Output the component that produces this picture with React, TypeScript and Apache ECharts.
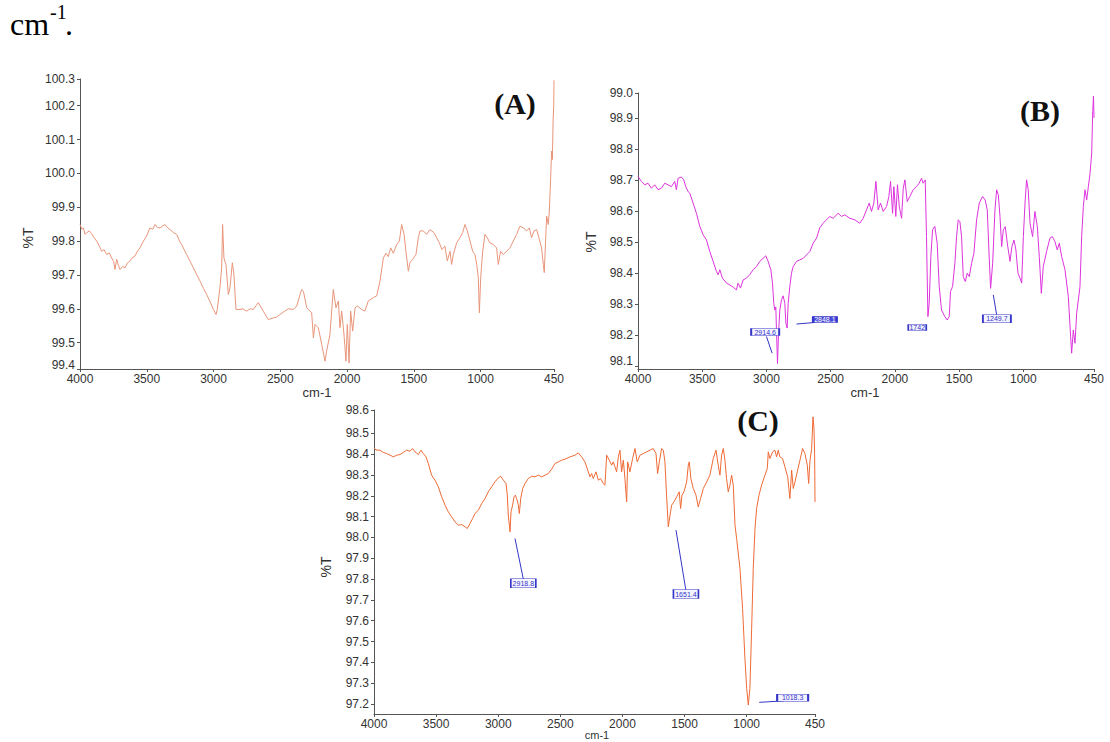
import React, { useEffect, useRef } from "react";
import * as echarts from "echarts";

// ---------- tick labels ----------
const xTicks = [4000, 3500, 3000, 2500, 2000, 1500, 1000, 450];
const yTicksA = [99.422, 99.5, 99.6, 99.7, 99.8, 99.9, 100.0, 100.1, 100.2, 100.279];
const yTicksB = [98.09, 98.1, 98.2, 98.3, 98.4, 98.5, 98.6, 98.7, 98.8, 98.9, 98.98];
const yTicksC = [97.152, 97.2, 97.3, 97.4, 97.5, 97.6, 97.7, 97.8, 97.9, 98.0, 98.1, 98.2, 98.3, 98.4, 98.5, 98.612];

// ---------- spectra [wavenumber cm-1, %T] ----------
const specA: [number, number][] = [
  [4000, 99.849], [3985, 99.835], [3975, 99.839], [3962, 99.82], [3950, 99.825], [3930, 99.83], [3913, 99.822], [3895, 99.81],
  [3875, 99.8], [3855, 99.785], [3838, 99.77], [3820, 99.775], [3800, 99.76], [3780, 99.765], [3763, 99.75], [3748, 99.74],
  [3738, 99.716], [3725, 99.746], [3712, 99.728], [3700, 99.716], [3680, 99.725], [3663, 99.721], [3645, 99.735], [3626, 99.741],
  [3610, 99.75], [3588, 99.756], [3570, 99.77], [3551, 99.78], [3525, 99.8], [3501, 99.815], [3476, 99.839], [3455, 99.835],
  [3438, 99.849], [3420, 99.84], [3401, 99.839], [3380, 99.845], [3363, 99.849], [3345, 99.84], [3326, 99.834], [3300, 99.825],
  [3276, 99.82], [3255, 99.8], [3239, 99.79], [3220, 99.775], [3201, 99.76], [3175, 99.74], [3151, 99.721], [3125, 99.7],
  [3101, 99.682], [3075, 99.66], [3051, 99.642], [3025, 99.62], [3001, 99.598], [2981, 99.583], [2972, 99.598], [2952, 99.662],
  [2939, 99.721], [2932, 99.849], [2922, 99.75], [2907, 99.731], [2889, 99.642], [2877, 99.662], [2859, 99.736], [2847, 99.7],
  [2832, 99.598], [2802, 99.598], [2780, 99.6], [2752, 99.593], [2725, 99.6], [2702, 99.598], [2665, 99.618], [2627, 99.593],
  [2590, 99.568], [2552, 99.573], [2530, 99.575], [2502, 99.583], [2477, 99.59], [2440, 99.6], [2402, 99.598], [2377, 99.608],
  [2352, 99.642], [2340, 99.657], [2327, 99.652], [2302, 99.603], [2265, 99.588], [2252, 99.514], [2240, 99.554], [2215, 99.544],
  [2190, 99.495], [2165, 99.445], [2153, 99.475], [2128, 99.524], [2103, 99.657], [2083, 99.603], [2065, 99.623], [2053, 99.544],
  [2040, 99.593], [2023, 99.524], [2008, 99.445], [1998, 99.554], [1985, 99.44], [1973, 99.593], [1958, 99.534], [1940, 99.603],
  [1923, 99.608], [1890, 99.598], [1866, 99.593], [1841, 99.623], [1803, 99.633], [1778, 99.638], [1753, 99.682], [1728, 99.75],
  [1708, 99.764], [1691, 99.754], [1673, 99.78], [1653, 99.764], [1628, 99.79], [1608, 99.8], [1591, 99.849], [1573, 99.82],
  [1559, 99.77], [1541, 99.711], [1529, 99.736], [1509, 99.746], [1484, 99.76], [1466, 99.81], [1454, 99.83], [1429, 99.83],
  [1404, 99.82], [1379, 99.834], [1349, 99.825], [1329, 99.81], [1309, 99.795], [1289, 99.775], [1267, 99.785], [1249, 99.741],
  [1229, 99.77], [1217, 99.731], [1204, 99.76], [1179, 99.795], [1154, 99.81], [1134, 99.825], [1117, 99.849], [1099, 99.83],
  [1079, 99.8], [1059, 99.77], [1042, 99.76], [1029, 99.731], [1017, 99.692], [1009, 99.588], [999, 99.692], [984, 99.77],
  [967, 99.82], [950, 99.81], [930, 99.795], [905, 99.79], [880, 99.78], [867, 99.731], [850, 99.77], [830, 99.76],
  [805, 99.77], [780, 99.78], [755, 99.8], [730, 99.82], [705, 99.844], [680, 99.839], [655, 99.83], [635, 99.839],
  [618, 99.81], [600, 99.83], [580, 99.834], [560, 99.805], [543, 99.78], [530, 99.731], [523, 99.707], [513, 99.8],
  [505, 99.874], [493, 99.849], [485, 99.888], [475, 99.987], [468, 100.066], [462, 100.041], [457, 100.155], [452, 100.2],
  [450, 100.275],
];

const specB: [number, number][] = [
  [4000, 98.711], [3974, 98.695], [3948, 98.684], [3922, 98.689], [3896, 98.673], [3870, 98.684], [3844, 98.668], [3818, 98.673],
  [3792, 98.689], [3766, 98.684], [3740, 98.678], [3714, 98.695], [3701, 98.668], [3688, 98.705], [3662, 98.709], [3644, 98.7],
  [3628, 98.678], [3610, 98.662], [3597, 98.657], [3571, 98.625], [3545, 98.592], [3519, 98.55], [3493, 98.523], [3467, 98.506],
  [3441, 98.469], [3415, 98.437], [3389, 98.404], [3376, 98.394], [3363, 98.41], [3343, 98.383], [3311, 98.367], [3285, 98.361],
  [3259, 98.354], [3234, 98.345], [3221, 98.367], [3202, 98.351], [3182, 98.377], [3156, 98.383], [3130, 98.394], [3104, 98.41],
  [3078, 98.42], [3052, 98.437], [3026, 98.447], [3005, 98.455], [2987, 98.437], [2966, 98.41], [2953, 98.367], [2943, 98.302],
  [2935, 98.28], [2927, 98.29], [2922, 98.216], [2914, 98.108], [2906, 98.205], [2896, 98.28], [2883, 98.313], [2870, 98.326],
  [2857, 98.302], [2849, 98.238], [2839, 98.222], [2831, 98.302], [2818, 98.356], [2805, 98.399], [2792, 98.42], [2766, 98.437],
  [2740, 98.442], [2714, 98.447], [2688, 98.458], [2662, 98.469], [2636, 98.496], [2610, 98.512], [2585, 98.545], [2559, 98.56],
  [2533, 98.571], [2507, 98.582], [2481, 98.576], [2442, 98.592], [2416, 98.582], [2390, 98.587], [2351, 98.576], [2312, 98.571],
  [2273, 98.56], [2247, 98.576], [2221, 98.603], [2200, 98.625], [2182, 98.598], [2164, 98.625], [2148, 98.695], [2130, 98.603],
  [2112, 98.625], [2091, 98.598], [2065, 98.614], [2047, 98.646], [2034, 98.695], [2018, 98.592], [2008, 98.678], [1993, 98.582],
  [1980, 98.684], [1966, 98.614], [1948, 98.576], [1935, 98.673], [1922, 98.7], [1904, 98.63], [1884, 98.646], [1858, 98.668],
  [1832, 98.678], [1811, 98.689], [1793, 98.705], [1780, 98.689], [1764, 98.7], [1754, 98.517], [1743, 98.259], [1733, 98.302],
  [1720, 98.453], [1707, 98.539], [1689, 98.55], [1671, 98.496], [1655, 98.356], [1637, 98.28], [1611, 98.259], [1593, 98.248],
  [1577, 98.259], [1567, 98.34], [1551, 98.356], [1533, 98.431], [1520, 98.517], [1507, 98.571], [1494, 98.565], [1481, 98.517],
  [1468, 98.388], [1452, 98.372], [1437, 98.399], [1421, 98.388], [1403, 98.431], [1385, 98.463], [1364, 98.571], [1343, 98.625],
  [1317, 98.646], [1297, 98.635], [1281, 98.603], [1265, 98.442], [1255, 98.35], [1239, 98.431], [1221, 98.603], [1208, 98.668],
  [1195, 98.652], [1182, 98.582], [1169, 98.485], [1156, 98.539], [1141, 98.549], [1125, 98.496], [1104, 98.437], [1089, 98.485],
  [1073, 98.506], [1058, 98.474], [1042, 98.399], [1026, 98.383], [1013, 98.367], [1000, 98.517], [987, 98.625], [975, 98.7],
  [962, 98.668], [948, 98.56], [928, 98.517], [910, 98.598], [891, 98.549], [876, 98.453], [860, 98.334], [845, 98.42],
  [819, 98.469], [793, 98.512], [775, 98.517], [754, 98.501], [736, 98.474], [720, 98.496], [702, 98.453], [676, 98.41],
  [650, 98.324], [632, 98.195], [624, 98.141], [611, 98.216], [598, 98.173], [585, 98.27], [572, 98.313], [559, 98.356],
  [546, 98.517], [533, 98.614], [520, 98.668], [507, 98.635], [494, 98.678], [481, 98.72], [468, 98.786], [460, 98.92],
  [454, 98.97], [450, 98.9],
];

const specC: [number, number][] = [
  [4000, 98.43], [3984, 98.42], [3952, 98.419], [3925, 98.408], [3898, 98.403], [3871, 98.395], [3844, 98.387], [3817, 98.395],
  [3791, 98.398], [3764, 98.408], [3737, 98.419], [3710, 98.414], [3689, 98.427], [3670, 98.411], [3643, 98.398], [3622, 98.419],
  [3603, 98.403], [3581, 98.387], [3563, 98.355], [3536, 98.299], [3509, 98.275], [3482, 98.243], [3455, 98.195], [3428, 98.155],
  [3402, 98.123], [3375, 98.099], [3348, 98.075], [3321, 98.059], [3294, 98.062], [3267, 98.051], [3249, 98.043], [3227, 98.067],
  [3206, 98.091], [3187, 98.115], [3160, 98.131], [3133, 98.163], [3106, 98.187], [3080, 98.219], [3053, 98.243], [3026, 98.267],
  [2999, 98.286], [2980, 98.294], [2959, 98.275], [2937, 98.259], [2927, 98.203], [2919, 98.107], [2905, 98.027], [2897, 98.123],
  [2884, 98.155], [2873, 98.195], [2862, 98.203], [2852, 98.187], [2838, 98.155], [2830, 98.115], [2819, 98.187], [2803, 98.235],
  [2784, 98.259], [2758, 98.283], [2731, 98.294], [2704, 98.291], [2677, 98.299], [2650, 98.291], [2623, 98.299], [2597, 98.307],
  [2570, 98.328], [2543, 98.355], [2516, 98.363], [2489, 98.371], [2462, 98.376], [2422, 98.387], [2382, 98.395], [2355, 98.406],
  [2329, 98.387], [2302, 98.363], [2275, 98.315], [2261, 98.291], [2248, 98.307], [2235, 98.283], [2213, 98.315], [2194, 98.275],
  [2176, 98.283], [2154, 98.259], [2141, 98.251], [2127, 98.395], [2106, 98.371], [2087, 98.347], [2074, 98.363], [2060, 98.339],
  [2047, 98.315], [2033, 98.387], [2020, 98.419], [2007, 98.315], [1993, 98.371], [1980, 98.283], [1966, 98.171], [1958, 98.363],
  [1940, 98.315], [1918, 98.379], [1899, 98.427], [1881, 98.363], [1859, 98.395], [1832, 98.403], [1805, 98.411], [1778, 98.419],
  [1752, 98.427], [1730, 98.403], [1717, 98.307], [1703, 98.363], [1685, 98.427], [1671, 98.419], [1658, 98.363], [1645, 98.203],
  [1631, 98.051], [1617, 98.107], [1604, 98.155], [1585, 98.171], [1564, 98.195], [1543, 98.219], [1532, 98.139], [1521, 98.203],
  [1505, 98.219], [1483, 98.267], [1470, 98.347], [1462, 98.363], [1449, 98.283], [1430, 98.235], [1408, 98.203], [1390, 98.147],
  [1371, 98.187], [1349, 98.235], [1322, 98.267], [1296, 98.299], [1269, 98.379], [1247, 98.419], [1229, 98.347], [1215, 98.299],
  [1202, 98.395], [1188, 98.427], [1175, 98.371], [1162, 98.283], [1148, 98.219], [1135, 98.251], [1121, 98.299], [1108, 98.251],
  [1094, 98.059], [1081, 97.995], [1054, 97.851], [1033, 97.659], [1014, 97.419], [1000, 97.275], [987, 97.195], [974, 97.275],
  [960, 97.563], [947, 97.851], [933, 98.043], [920, 98.139], [901, 98.203], [880, 98.251], [853, 98.299], [834, 98.331],
  [826, 98.411], [813, 98.379], [791, 98.411], [773, 98.419], [759, 98.387], [746, 98.419], [733, 98.387], [711, 98.379],
  [692, 98.339], [670, 98.291], [652, 98.187], [638, 98.323], [625, 98.235], [611, 98.267], [593, 98.315], [571, 98.371],
  [550, 98.427], [531, 98.403], [512, 98.347], [501, 98.259], [490, 98.371], [477, 98.427], [466, 98.579], [458, 98.52],
  [453, 98.4], [450, 98.17],
];

// ---------- peak annotations ----------
const peakLabelsB = ["2914.6", "2848.1", "1742", "1249.7"];
const peakBoxesB: [number, number][] = [[3010, 98.209], [2545, 98.25], [1826, 98.224], [1206, 98.252]];
const peakLeadersB: [number, number][][] = [
  [[3000, 98.195], [2956, 98.141]],
  [[2766, 98.235], [2623, 98.24]],
  [[1234, 98.329], [1208, 98.265]],
];
const peakLabelsC = ["2918.8", "1651.4", "1018.3"];
const peakBoxesC: [number, number][] = [[2798, 97.78], [1489, 97.728], [630, 97.23]];
const peakLeadersC: [number, number][][] = [
  [[2865, 97.995], [2798, 97.8]],
  [[1569, 98.035], [1489, 97.745]],
  [[899, 97.208], [700, 97.215]],
];

const FONT = "Liberation Sans, Arial, sans-serif";
const SERIF = "Liberation Serif, Times New Roman, serif";
const BLUE = "#3535c8";

function xAxis(gridIndex: number, fontSize: number) {
  return {
    type: "value",
    gridIndex,
    min: 450,
    max: 4000,
    inverse: true,
    axisLine: { show: true, lineStyle: { color: "#555", width: 1 } },
    axisTick: { show: true, length: 3, customValues: xTicks, lineStyle: { color: "#555" } },
    axisLabel: {
      customValues: xTicks,
      fontSize,
      color: "#333",
      margin: 4,
      fontFamily: FONT,
      formatter: (v: number) => String(Math.round(v)),
    },
    splitLine: { show: false },
  };
}

// lifted: tick values whose label is raised a few pixels (avoids clashing with neighbours)
function yAxis(gridIndex: number, ticks: number[], lifted: number[]) {
  return {
    type: "value",
    gridIndex,
    min: ticks[0],
    max: ticks[ticks.length - 1],
    axisLine: { show: true, lineStyle: { color: "#555", width: 1 } },
    axisTick: { show: true, length: 3, customValues: ticks, lineStyle: { color: "#555" } },
    axisLabel: {
      customValues: ticks,
      fontSize: 12,
      color: "#333",
      margin: 5,
      fontFamily: FONT,
      formatter: (v: number) => {
        const s = v.toFixed(1);
        if (lifted.some((t) => Math.abs(v - t) < 1e-6)) return "{up|" + s + "}";
        return s;
      },
      rich: { up: { fontSize: 12, color: "#333", fontFamily: FONT, padding: [0, 0, 9, 0] } },
    },
    splitLine: { show: false },
  };
}

function annot(labels: string[], boxes: [number, number][], leaders: [number, number][][], sizes: number[][], filled: boolean[]) {
  return {
    markLine: {
      silent: true,
      symbol: "none",
      lineStyle: { color: BLUE, width: 1, type: "solid" },
      label: { show: false },
      emphasis: { disabled: true },
      data: leaders.map((l) => [{ coord: l[0] }, { coord: l[1] }]),
    },
    markPoint: {
      silent: true,
      symbol: "rect",
      data: labels.map((t, i) => ({
        name: t,
        coord: boxes[i],
        symbolSize: sizes[i],
        itemStyle: { color: filled[i] ? "#4a4ad8" : "#f4f4ff", borderColor: BLUE, borderWidth: 1 },
        label: {
          show: true,
          position: "inside",
          formatter: "{b}",
          fontSize: 7,
          fontFamily: FONT,
          color: filled[i] ? "#fff" : BLUE,
        },
      })),
    },
  };
}

export default function App() {
  const ref = useRef<HTMLDivElement>(null);
  useEffect(() => {
    if (!ref.current) return;
    const chart = echarts.init(ref.current, undefined, { renderer: "svg" });
    const option: any = {
      animation: false,
      backgroundColor: "#fff",
      grid: [
        { left: 80, top: 79, width: 474, height: 290 },
        { left: 638, top: 93, width: 456, height: 276 },
        { left: 374, top: 410, width: 441, height: 304 },
      ],
      xAxis: [xAxis(0, 12), xAxis(1, 12), xAxis(2, 12)],
      yAxis: [
        yAxis(0, yTicksA, [yTicksA[0]]),
        yAxis(1, yTicksB, [98.1]),
        yAxis(2, yTicksC, [yTicksC[0]]),
      ],
      series: [
        {
          type: "line", xAxisIndex: 0, yAxisIndex: 0, data: specA, showSymbol: false, symbol: "none",
          lineStyle: { color: "#E8957A", width: 1 }, itemStyle: { color: "#E8957A" },
        },
        {
          type: "line", xAxisIndex: 1, yAxisIndex: 1, data: specB, showSymbol: false, symbol: "none",
          lineStyle: { color: "#DD33DD", width: 1 }, itemStyle: { color: "#DD33DD" },
          ...annot(peakLabelsB, peakBoxesB, peakLeadersB, [[28, 7], [24, 6], [18, 6], [28, 8]], [false, true, false, false]),
        },
        {
          type: "line", xAxisIndex: 2, yAxisIndex: 2, data: specC, showSymbol: false, symbol: "none",
          lineStyle: { color: "#EE6A35", width: 1 }, itemStyle: { color: "#EE6A35" },
          ...annot(peakLabelsC, peakBoxesC, peakLeadersC, [[25, 9], [25, 9], [31, 7]], [false, false, false]),
        },
      ],
      graphic: [
        { type: "text", x: 10, y: 24, style: { text: "cm", fontSize: 32, fontFamily: SERIF, fill: "#000", align: "left", verticalAlign: "middle" } },
        { type: "text", x: 50, y: 12, style: { text: "-1", fontSize: 20, fontFamily: SERIF, fill: "#000", align: "left", verticalAlign: "middle" } },
        { type: "text", x: 65, y: 24, style: { text: ".", fontSize: 32, fontFamily: SERIF, fill: "#000", align: "left", verticalAlign: "middle" } },
        { type: "text", x: 515, y: 103, style: { text: "(A)", fontSize: 30, fontWeight: "bold", fontFamily: SERIF, fill: "#111", align: "center", verticalAlign: "middle" } },
        { type: "text", x: 1040, y: 110, style: { text: "(B)", fontSize: 30, fontWeight: "bold", fontFamily: SERIF, fill: "#111", align: "center", verticalAlign: "middle" } },
        { type: "text", x: 758, y: 420, style: { text: "(C)", fontSize: 30, fontWeight: "bold", fontFamily: SERIF, fill: "#111", align: "center", verticalAlign: "middle" } },
        { type: "text", x: 28, y: 238, rotation: Math.PI / 2, style: { text: "%T", fontSize: 14, fontFamily: FONT, fill: "#333", align: "center", verticalAlign: "middle" } },
        { type: "text", x: 591, y: 242, rotation: Math.PI / 2, style: { text: "%T", fontSize: 14, fontFamily: FONT, fill: "#333", align: "center", verticalAlign: "middle" } },
        { type: "text", x: 326, y: 567, rotation: Math.PI / 2, style: { text: "%T", fontSize: 14, fontFamily: FONT, fill: "#333", align: "center", verticalAlign: "middle" } },
        { type: "text", x: 317, y: 392, style: { text: "cm-1", fontSize: 13, fontFamily: FONT, fill: "#333", align: "center", verticalAlign: "middle" } },
        { type: "text", x: 865, y: 392, style: { text: "cm-1", fontSize: 13, fontFamily: FONT, fill: "#333", align: "center", verticalAlign: "middle" } },
        { type: "text", x: 597, y: 735, style: { text: "cm-1", fontSize: 11, fontFamily: FONT, fill: "#333", align: "center", verticalAlign: "middle" } },
      ],
    };
    chart.setOption(option);
    return () => chart.dispose();
  }, []);
  return (
    <div
      ref={ref}
      style={{ position: "fixed", left: 0, top: 0, width: 1110, height: 742, background: "#fff" }}
    />
  );
}
